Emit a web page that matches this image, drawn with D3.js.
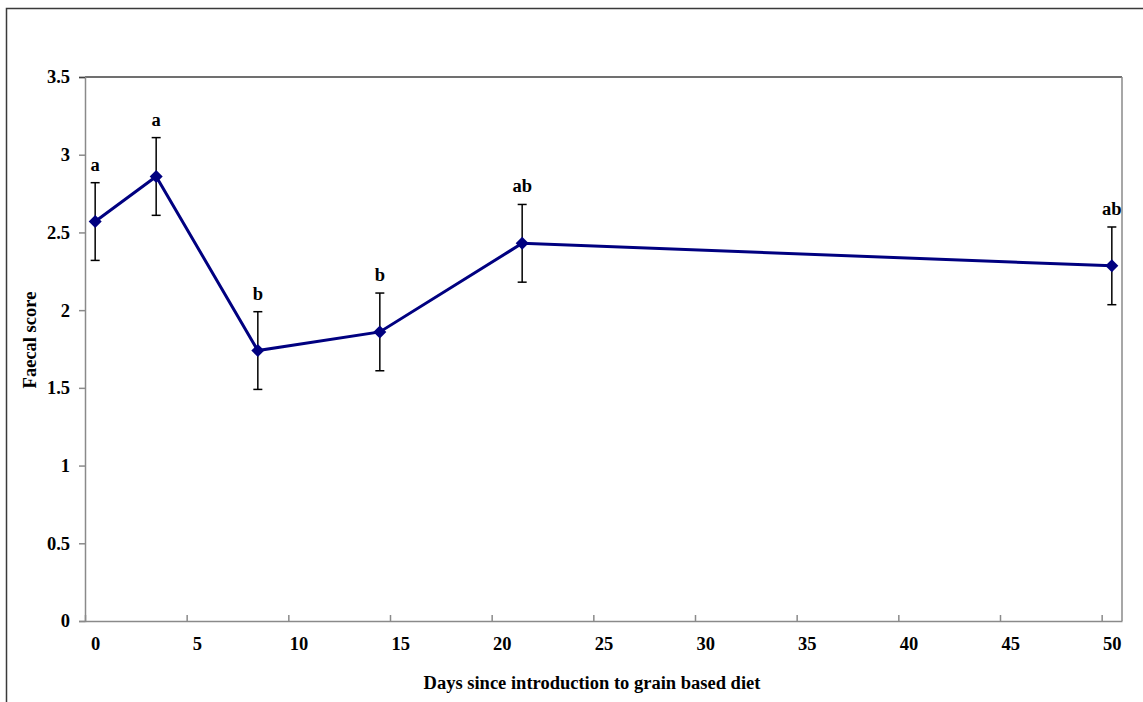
<!DOCTYPE html>
<html>
<head>
<meta charset="utf-8">
<script src="https://cdn.jsdelivr.net/npm/d3@7"></script>
<style>
  html, body { margin: 0; padding: 0; background: #fff; }
  svg { display: block; }
  svg text { font-family: "Liberation Serif", "Times New Roman", serif !important; font-weight: bold; fill: #000; }
</style>
</head>
<body>
<svg id="chart" width="1143" height="702"></svg>
<script>
// Faecal score by day after switching to a grain based diet (mean ± SE)
const days = [0, 3, 8, 14, 21, 50];
const scores = [2.57, 2.86, 1.74, 1.86, 2.43, 2.285];
const errors = [0.25, 0.25, 0.25, 0.25, 0.25, 0.25];
const groups = ["a", "a", "b", "b", "ab", "ab"];
const xTicks = [0, 5, 10, 15, 20, 25, 30, 35, 40, 45, 50];
const yTicks = [0, 0.5, 1, 1.5, 2, 2.5, 3, 3.5];

const svg = d3.select("#chart");
const plotLeft = 85, plotRight = 1122, plotTop = 77, plotBottom = 621;
const fontSize = "18.5px";

const x = d3.scaleLinear().domain([-0.5, 50.5]).range([plotLeft, plotRight]);
const y = d3.scaleLinear().domain([0, 3.5]).range([plotBottom, plotTop]);

// outer frame
svg.append("rect")
  .attr("x", 6.5).attr("y", 8.5)
  .attr("width", 1160).attr("height", 720)
  .attr("fill", "none").attr("stroke", "#3a3a3a").attr("stroke-width", 1.5);

// plot area frame (top edge darker than the others)
svg.append("line").attr("x1", plotLeft).attr("x2", plotRight).attr("y1", plotTop).attr("y2", plotTop)
  .attr("stroke", "#404040").attr("stroke-width", 1.5);
svg.append("line").attr("x1", plotRight).attr("x2", plotRight).attr("y1", plotTop).attr("y2", plotBottom)
  .attr("stroke", "#8a8a8a").attr("stroke-width", 1.5);

// y axis
const yAxis = svg.append("g").attr("transform", `translate(${plotLeft},0)`)
  .call(d3.axisLeft(y).tickValues(yTicks).tickFormat(d3.format("")).tickSize(6).tickPadding(9));
yAxis.attr("font-family", null).attr("font-size", null);
yAxis.select(".domain").attr("stroke", "#8a8a8a").attr("stroke-width", 1.5);
yAxis.selectAll(".tick line").attr("stroke", "#8a8a8a").attr("stroke-width", 1.5);
yAxis.selectAll(".tick text").style("font-size", fontSize);
yAxis.select(".tick:last-of-type line").attr("stroke", "#404040");

// x axis: labels sit on the day, tick marks half a day to the left
const xAxis = svg.append("g").attr("transform", `translate(0,${plotBottom})`)
  .call(d3.axisBottom(x).tickValues(xTicks).tickSize(0).tickPadding(16));
xAxis.attr("font-family", null).attr("font-size", null);
xAxis.select(".domain").attr("stroke", "#8a8a8a").attr("stroke-width", 1.5);
xAxis.selectAll(".tick text").style("font-size", fontSize);
xAxis.selectAll(".tick line")
  .attr("x1", x(-0.5) - x(0)).attr("x2", x(-0.5) - x(0))
  .attr("y1", 0).attr("y2", -6)
  .attr("stroke", "#8a8a8a").attr("stroke-width", 1.5);

// axis titles
svg.append("text")
  .attr("x", 592).attr("y", 689)
  .attr("text-anchor", "middle")
  .style("font-size", fontSize)
  .text("Days since introduction to grain based diet");
svg.append("text")
  .attr("transform", "translate(36,340) rotate(-90)")
  .attr("text-anchor", "middle")
  .style("font-size", fontSize)
  .text("Faecal score");

const pts = days.map((d, i) => ({ d, v: scores[i], e: errors[i], g: groups[i] }));

// error bars
const eb = svg.append("g").selectAll("g").data(pts).join("g");
eb.append("line")
  .attr("x1", p => x(p.d)).attr("x2", p => x(p.d))
  .attr("y1", p => y(p.v + p.e)).attr("y2", p => y(p.v - p.e))
  .attr("stroke", "#000").attr("stroke-width", 1.5);
eb.append("line")
  .attr("x1", p => x(p.d) - 4.5).attr("x2", p => x(p.d) + 4.5)
  .attr("y1", p => y(p.v + p.e)).attr("y2", p => y(p.v + p.e))
  .attr("stroke", "#000").attr("stroke-width", 1.5);
eb.append("line")
  .attr("x1", p => x(p.d) - 4.5).attr("x2", p => x(p.d) + 4.5)
  .attr("y1", p => y(p.v - p.e)).attr("y2", p => y(p.v - p.e))
  .attr("stroke", "#000").attr("stroke-width", 1.5);

// mean line
svg.append("path")
  .datum(pts)
  .attr("fill", "none")
  .attr("stroke", "#000080")
  .attr("stroke-width", 3)
  .attr("d", d3.line().x(p => x(p.d)).y(p => y(p.v)));

// diamond markers
svg.append("g").selectAll("path").data(pts).join("path")
  .attr("transform", p => `translate(${x(p.d)},${y(p.v)})`)
  .attr("d", "M0,-6.5L6.5,0L0,6.5L-6.5,0Z")
  .attr("fill", "#000080");

// group letters
svg.append("g").selectAll("text").data(pts).join("text")
  .attr("x", p => x(p.d))
  .attr("y", p => y(p.v + p.e) - 12)
  .attr("text-anchor", "middle")
  .style("font-size", fontSize)
  .text(p => p.g);
</script>
</body>
</html>
